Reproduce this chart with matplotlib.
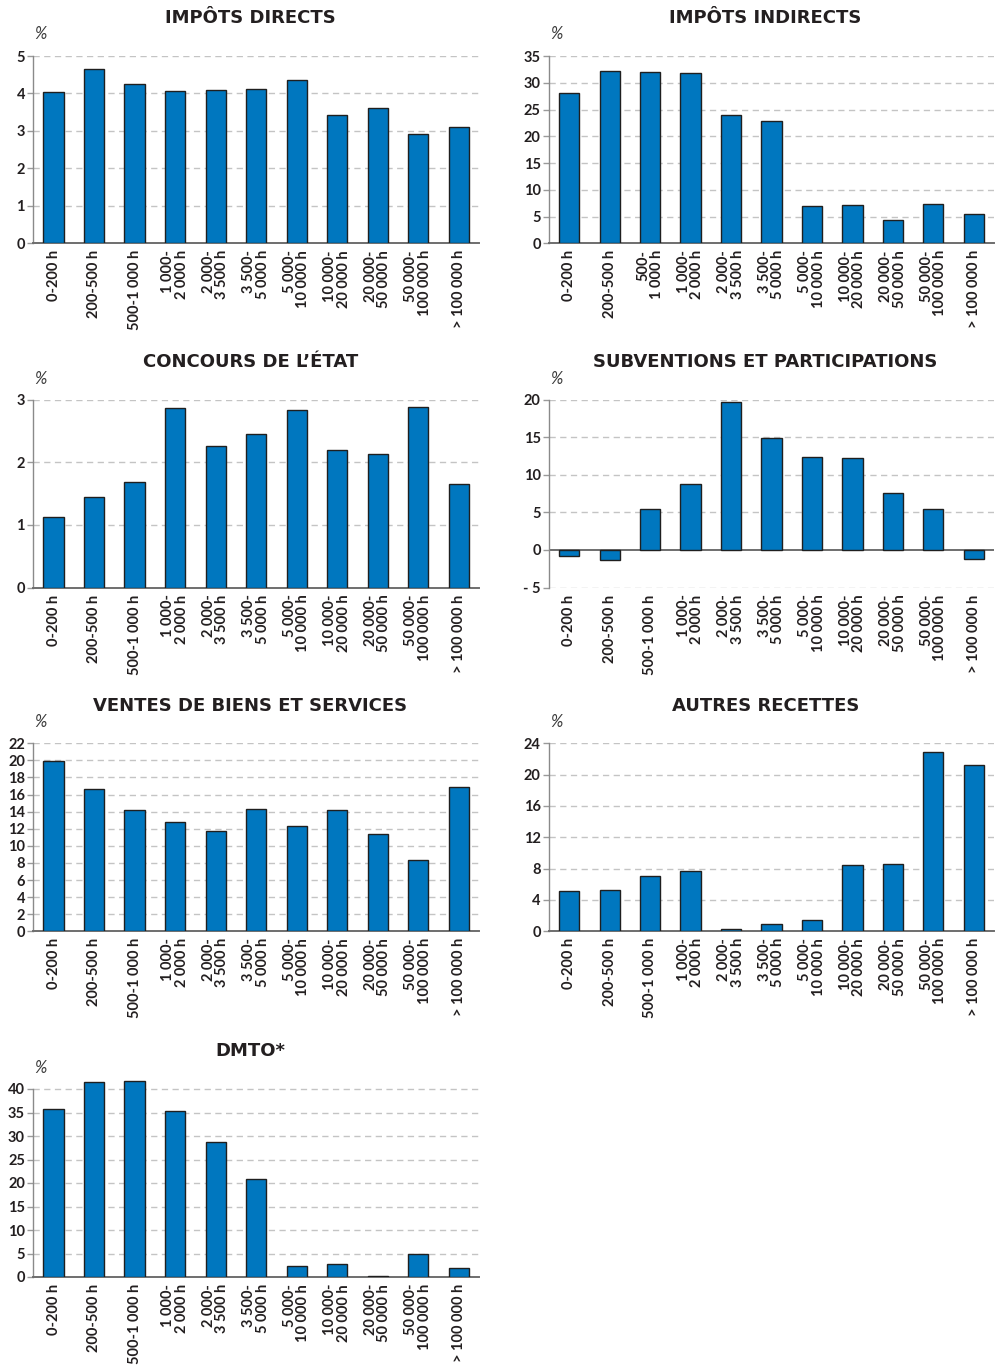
import matplotlib
matplotlib.use("Agg")
import matplotlib.pyplot as plt
import numpy as np

# ---------------- data ----------------
labels_std = ["0-200 h", "200-500 h", "500-1 000 h", "1 000-\n2 000 h", "2 000-\n3 500 h",
              "3 500-\n5 000 h", "5 000-\n10 000 h", "10 000-\n20 000 h", "20 000-\n50 000 h",
              "50 000-\n100 000 h", "> 100 000 h"]
labels_ind = ["0-200 h", "200-500 h", "500-\n1 000 h", "1 000-\n2 000 h", "2 000-\n3 500 h",
              "3 500-\n5 000 h", "5 000-\n10 000 h", "10 000-\n20 000 h", "20 000-\n50 000 h",
              "50 000-\n100 000 h", "> 100 000 h"]

impots_directs = [4.04, 4.64, 4.25, 4.07, 4.09, 4.12, 4.36, 3.42, 3.62, 2.93, 3.11]
impots_indirects = [28.0, 32.2, 32.1, 31.8, 23.9, 22.9, 6.9, 7.2, 4.35, 7.27, 5.4]
concours_etat = [1.13, 1.44, 1.69, 2.86, 2.26, 2.46, 2.84, 2.19, 2.14, 2.88, 1.66]
subventions = [-0.84, -1.33, 5.5, 8.74, 19.73, 14.86, 12.37, 12.2, 7.63, 5.45, -1.24]
ventes = [19.89, 16.65, 14.2, 12.75, 11.78, 14.35, 12.29, 14.2, 11.35, 8.3, 16.85]
autres = [5.16, 5.24, 7.08, 7.67, 0.26, 0.9, 1.41, 8.48, 8.57, 22.89, 21.23]
dmto = [35.8, 41.56, 41.77, 35.39, 28.72, 20.78, 2.34, 2.7, 0.14, 4.9, 1.84]

titles = ["IMPÔTS DIRECTS", "IMPÔTS INDIRECTS", "CONCOURS DE L’ÉTAT",
          "SUBVENTIONS ET PARTICIPATIONS", "VENTES DE BIENS ET SERVICES",
          "AUTRES RECETTES", "DMTO*"]

ticks_directs = [0, 1, 2, 3, 4, 5]
ticks_indirects = [0, 5, 10, 15, 20, 25, 30, 35]
ticks_concours = [0, 1, 2, 3]
ticks_subv = [-5, 0, 5, 10, 15, 20]
ticklabels_subv = ["- 5", "0", "5", "10", "15", "20"]
ticks_ventes = [0, 2, 4, 6, 8, 10, 12, 14, 16, 18, 20, 22]
ticks_autres = [0, 4, 8, 12, 16, 20, 24]
ticks_dmto = [0, 5, 10, 15, 20, 25, 30, 35, 40]

# ---------------- style ----------------
W, H = 999, 1371
BLUE = "#0077BF"
EDGE = "#1f1f1f"
TXT = "#231f20"
GRID = "#c4c4c4"
TICKFONT = "Lato"

fig = plt.figure(figsize=(W / 100, H / 100), dpi=100)

col_left = [33.3, 549.0]
col_right = [479.0, 994.0]
# (top_px_of_axes, bottom_px, title_y_px, pct_y_px)
rows = [
    (56.0, 243.3, 18, 34),
    (399.7, 587.5, 362, 379),
    (743.3, 931.3, 706, 722),
    (1079.6, 1277.0, 1051, 1068),
]

panels = [
    dict(data=impots_directs, labels=labels_std, ticks=ticks_directs, ylim=(0, 5)),
    dict(data=impots_indirects, labels=labels_ind, ticks=ticks_indirects, ylim=(0, 35)),
    dict(data=concours_etat, labels=labels_std, ticks=ticks_concours, ylim=(0, 3)),
    dict(data=subventions, labels=labels_std, ticks=ticks_subv, ylim=(-5, 20),
         ticklabels=ticklabels_subv),
    dict(data=ventes, labels=labels_std, ticks=ticks_ventes, ylim=(0, 22)),
    dict(data=autres, labels=labels_std, ticks=ticks_autres, ylim=(0, 24)),
    dict(data=dmto, labels=labels_std, ticks=ticks_dmto, ylim=(0, 42), spine_top=40),
]

for i, p in enumerate(panels):
    r, c = divmod(i, 2)
    top, bot, ty, py = rows[r]
    l, rr = col_left[c], col_right[c]
    ax = fig.add_axes([l / W, 1 - bot / H, (rr - l) / W, (bot - top) / H])
    x = np.arange(len(p["data"]))
    ax.bar(x, p["data"], width=0.5, color=BLUE, edgecolor=EDGE, linewidth=1.0, zorder=3)
    ax.set_xlim(-0.5, len(x) - 0.5)
    ax.set_ylim(*p["ylim"])
    ax.set_yticks(p["ticks"])
    if "ticklabels" in p:
        ax.set_yticklabels(p["ticklabels"])
    ax.set_xticks(x)
    ax.set_xticklabels(p["labels"], rotation=90, ha="center", va="top",
                       multialignment="right", linespacing=0.95)
    for s in ["top", "right"]:
        ax.spines[s].set_visible(False)
    ax.spines["left"].set_color("#8a8a8a")
    ax.spines["left"].set_linewidth(1.0)
    if "spine_top" in p:
        ax.spines["left"].set_bounds(p["ylim"][0], p["spine_top"])
    ax.spines["bottom"].set_color("#6e6e6e")
    ax.spines["bottom"].set_linewidth(1.4)
    if p["ylim"][0] < 0:
        ax.spines["bottom"].set_visible(False)
        ax.axhline(0, color="#6e6e6e", linewidth=1.4, zorder=2)
    for t in p["ticks"]:
        if t == 0:
            continue
        ax.axhline(t, color=GRID, linewidth=1.0, linestyle=(0, (4.5, 3.2)), zorder=1)
    ax.tick_params(axis="y", length=4, width=1.0, color="#9a9a9a", pad=2,
                   labelsize=10.5, labelcolor=TXT)
    ax.tick_params(axis="x", length=0, pad=5, labelsize=10.5, labelcolor=TXT)
    for lab in ax.get_yticklabels() + ax.get_xticklabels():
        lab.set_fontfamily(TICKFONT)
        lab.set_fontweight("bold")
    # title
    fig.text(((l + rr) / 2 - 6) / W, 1 - ty / H, titles[i], ha="center", va="center",
             fontsize=13, fontweight="bold", color=TXT, family="DejaVu Sans")
    # percent sign
    fig.text((l + 7) / W, 1 - py / H, "%", ha="center", va="center", fontsize=12,
             style="italic", color="#3a3a3a", family="Lato")

fig.savefig("out.png", dpi=100)
